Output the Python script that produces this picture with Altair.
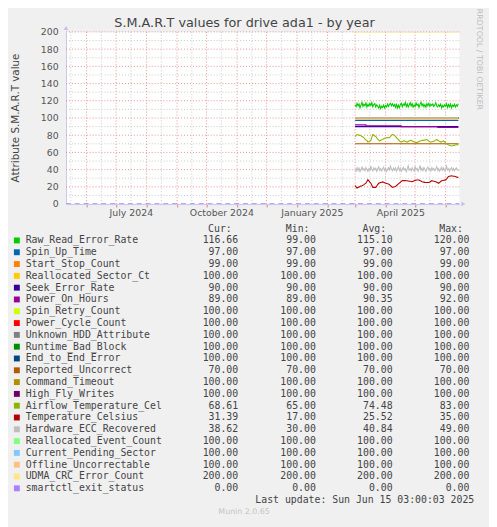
import altair as alt
import pandas as pd

# ---------------- data ----------------
start_date = "2025-03-01"
n_days = 106

series_names = [
    "Raw_Read_Error_Rate", "Spin_Up_Time", "Start_Stop_Count", "Reallocated_Sector_Ct",
    "Seek_Error_Rate", "Power_On_Hours", "Spin_Retry_Count", "Power_Cycle_Count",
    "Unknown_HDD_Attribute", "Runtime_Bad_Block", "End_to_End_Error", "Reported_Uncorrect",
    "Command_Timeout", "High_Fly_Writes", "Airflow_Temperature_Cel", "Temperature_Celsius",
    "Hardware_ECC_Recovered", "Reallocated_Event_Count", "Current_Pending_Sector",
    "Offline_Uncorrectable", "UDMA_CRC_Error_Count", "smartctl_exit_status",
]
series_colors = [
    "#00CC00", "#0066B3", "#FF8000", "#FFCC00", "#330099", "#990099", "#CCFF00", "#FF0000",
    "#808080", "#008F00", "#00487D", "#B35A00", "#B38F00", "#6B006B", "#8FB300", "#B30000",
    "#BEBEBE", "#80FF80", "#80C9FF", "#FFC080", "#FFE680", "#AA80FF",
]
cur_vals = [116.66, 97, 99, 100, 90, 89, 100, 100, 100, 100, 100, 70, 100, 100, 68.61, 31.39, 38.62, 100, 100, 100, 200, 0]
min_vals = [99, 97, 99, 100, 90, 89, 100, 100, 100, 100, 100, 70, 100, 100, 65, 17, 30, 100, 100, 100, 200, 0]
avg_vals = [115.10, 97, 99, 100, 90, 90.35, 100, 100, 100, 100, 100, 70, 100, 100, 74.48, 25.52, 40.84, 100, 100, 100, 200, 0]
max_vals = [120, 97, 99, 100, 90, 92, 100, 100, 100, 100, 100, 70, 100, 100, 83, 35, 49, 100, 100, 100, 200, 0]

const_levels = {
    "Spin_Up_Time": 97, "Start_Stop_Count": 99, "Reallocated_Sector_Ct": 100,
    "Seek_Error_Rate": 90, "Spin_Retry_Count": 100, "Power_Cycle_Count": 100,
    "Unknown_HDD_Attribute": 100, "Runtime_Bad_Block": 100, "End_to_End_Error": 100,
    "Reported_Uncorrect": 70, "Command_Timeout": 100, "High_Fly_Writes": 100,
    "Reallocated_Event_Count": 100, "Current_Pending_Sector": 100,
    "Offline_Uncorrectable": 100, "UDMA_CRC_Error_Count": 200,
}

raw_read = [
    115.5, 113.2, 117.0, 114.1, 116.3, 111.8, 115.0, 118.2, 113.5, 116.0,
    114.2, 117.5, 112.6, 115.8, 113.9, 116.9, 114.4, 118.0, 113.0, 115.6,
    116.8, 112.9, 115.3, 113.6, 111.5, 114.8, 110.9, 113.7, 112.2, 115.0,
    111.6, 114.3, 112.8, 116.1, 113.4, 115.9, 117.2, 114.0, 116.5, 113.8,
    115.7, 112.4, 116.6, 110.8, 114.9, 112.0, 115.4, 117.1, 113.1, 116.2,
    114.6, 118.1, 113.3, 116.4, 112.7, 115.2, 117.8, 113.9, 116.7, 112.5,
    115.1, 113.2, 117.4, 114.5, 116.0, 112.3, 115.8, 118.3, 114.1, 116.3,
    113.0, 115.6, 112.6, 116.8, 114.2, 117.0, 113.5, 115.9, 114.7, 116.4,
    113.3, 115.0, 117.6, 114.0, 112.9, 115.5, 113.4, 116.1, 111.9, 114.6,
    112.8, 115.3, 113.6, 116.5, 112.4, 115.7, 113.1, 116.2, 111.7, 114.9,
    113.5, 116.0, 112.7, 115.4, 113.8, 116.66,
]
airflow = [
    78.5, 79.5, 80.8, 80.5, 80.0, 79.8, 79.2, 78.6, 78.0, 77.0,
    75.5, 74.5, 74.0, 72.0, 72.5, 73.2, 74.0, 77.5, 80.8, 80.2,
    79.0, 78.5, 77.0, 75.5, 74.3, 73.5, 74.0, 74.6, 75.0, 75.8,
    76.4, 76.8, 77.0, 77.2, 77.0, 77.0, 78.5, 80.0, 80.8, 80.5,
    79.8, 78.6, 77.3, 76.0, 74.8, 73.6, 72.5, 72.0, 72.6, 73.2,
    73.5, 73.0, 72.4, 72.0, 72.6, 73.2, 73.8, 74.0, 73.3, 72.6,
    72.0, 71.8, 71.6, 71.6, 72.2, 72.8, 73.3, 73.5, 73.8, 74.0,
    74.0, 74.4, 74.8, 75.0, 74.0, 73.0, 72.4, 72.0, 72.3, 72.7,
    73.0, 73.6, 74.3, 75.0, 74.2, 73.4, 72.6, 72.0, 72.5, 73.0,
    73.5, 72.3, 71.0, 70.2, 69.4, 68.6, 68.2, 67.8, 67.5, 67.7,
    68.0, 68.3, 68.6, 68.9, 69.2, 68.6,
]
temperature = [
    21.3, 20.0, 18.7, 19.3, 19.9, 20.5, 21.0, 21.4, 21.9, 22.6,
    23.4, 24.2, 26.2, 28.2, 26.9, 25.5, 24.2, 21.8, 19.4, 19.4,
    19.4, 19.4, 21.0, 22.6, 24.2, 24.6, 25.0, 25.4, 25.7, 25.2,
    24.7, 24.2, 23.9, 23.6, 23.4, 22.4, 21.4, 20.4, 19.4, 19.8,
    20.1, 20.5, 21.5, 22.4, 23.4, 24.4, 25.3, 26.3, 27.2, 27.2,
    27.2, 27.2, 27.1, 27.0, 26.8, 26.6, 26.4, 26.2, 26.0, 26.5,
    27.0, 27.5, 28.0, 28.0, 28.0, 28.0, 27.3, 26.7, 26.0, 25.7,
    25.5, 25.2, 25.0, 25.0, 25.0, 25.0, 25.7, 26.5, 27.2, 26.9,
    26.6, 26.3, 26.0, 25.4, 24.8, 24.2, 25.2, 26.2, 27.2, 27.4,
    27.6, 27.8, 28.0, 29.3, 30.7, 32.0, 32.3, 32.6, 32.8, 32.6,
    32.4, 32.2, 32.0, 31.5, 31.0, 31.39,
]
ecc = [
    40.5, 38.2, 42.1, 39.0, 41.8, 37.6, 40.2, 43.0, 39.5, 41.2,
    38.8, 42.5, 40.0, 37.9, 41.0, 39.3, 44.2, 40.1, 38.5, 42.0,
    39.8, 41.5, 38.0, 40.7, 43.5, 39.2, 41.0, 38.4, 40.8, 42.8,
    39.0, 41.3, 37.8, 40.5, 42.2, 39.6, 44.0, 40.3, 38.6, 41.7,
    39.4, 42.0, 38.2, 40.9, 43.2, 39.1, 41.6, 38.0, 40.4, 42.6,
    39.7, 41.2, 37.5, 40.8, 44.5, 39.5, 41.0, 38.7, 42.3, 40.0,
    38.3, 43.8, 39.9, 41.4, 38.1, 40.6, 45.0, 39.2, 41.8, 38.9,
    42.4, 40.1, 37.8, 41.3, 43.0, 39.6, 40.9, 38.4, 42.1, 39.7,
    41.5, 38.6, 40.3, 43.6, 39.0, 41.1, 38.3, 40.7, 42.7, 39.4,
    41.9, 38.8, 40.2, 44.1, 39.5, 41.2, 38.0, 40.6, 42.3, 39.1,
    41.4, 38.7, 40.8, 42.0, 39.6, 38.62,
]
power_on_days = [0, 11, 47, 84, 105]
power_on_vals = [92, 91, 90, 89, 89]
smartctl_dates = ["2024-05-11", "2025-06-15"]
smartctl_vals = [0, 0]

month_starts = ["2024-06-01", "2024-07-01", "2024-08-01", "2024-09-01", "2024-10-01",
                "2024-11-01", "2024-12-01", "2025-01-01", "2025-02-01", "2025-03-01",
                "2025-04-01", "2025-05-01", "2025-06-01"]
mid_months = ["2024-05-16", "2024-06-16", "2024-07-16", "2024-08-16", "2024-09-16",
              "2024-10-16", "2024-11-16", "2024-12-16", "2025-01-16", "2025-02-16",
              "2025-03-16", "2025-04-16", "2025-05-16"]
major_y = [20, 40, 60, 80, 100, 120, 140, 160, 180, 200]
minor_y = [10, 30, 50, 70, 90, 110, 130, 150, 170, 190]
y_tick_values = [0, 20, 40, 60, 80, 100, 120, 140, 160, 180, 200]

title_text = "S.M.A.R.T values for drive ada1 - by year"
ylabel_text = "Attribute S.M.A.R.T value"
side_text = "RRDTOOL / TOBI OETIKER"
footer_text = "Munin 2.0.65"
update_text = "Last update: Sun Jun 15 03:00:03 2025"

# ---------------- chart ----------------
W, H = 400, 175
dates = pd.date_range(start_date, periods=n_days, freq="D").strftime("%Y-%m-%d").tolist()

xscale = alt.Scale(domain=[alt.DateTime(year=2024, month=5, date=11, hours=3),
                           alt.DateTime(year=2025, month=6, date=15, hours=3)])
yscale = alt.Scale(domain=[0, 200], nice=False, zero=False)

xaxis = alt.Axis(
    values=[alt.DateTime(year=int(d[:4]), month=int(d[5:7]), date=1) for d in month_starts],
    labelExpr="indexof([0,3,6,9], month(datum.value)) >= 0 ? timeFormat(datum.value, '%B %Y') : ''",
    labelOffset=15, tickSize=3, tickColor="#E08080", domainColor="#C8C8F0",
    grid=False, labelFont="DejaVu Sans", labelFontSize=9.5, labelColor="#555555",
    labelPadding=1, title=None, labelOverlap=False, labelFlush=False, labelBound=False,
)
yaxis = alt.Axis(
    values=y_tick_values, ticks=False, labelPadding=8, domainColor="#C8C8F0", grid=False,
    labelFont="DejaVu Sans", labelFontSize=9.5, labelColor="#555555", title=None,
)
X = alt.X("date:T", scale=xscale, axis=xaxis, title=None)
Y = alt.Y("value:Q", scale=yscale, axis=yaxis, title=None)

layers = []
# grid
layers.append(alt.Chart(pd.DataFrame({"date": mid_months})).mark_rule(
    color="#C8C8C8", strokeDash=[1, 2], strokeWidth=1).encode(x=X, y=alt.value(0), y2=alt.value(H)))
layers.append(alt.Chart(pd.DataFrame({"value": minor_y})).mark_rule(
    color="#C8C8C8", strokeDash=[1, 2], strokeWidth=1).encode(y=Y, x=alt.value(0), x2=alt.value(W)))
layers.append(alt.Chart(pd.DataFrame({"date": month_starts})).mark_rule(
    color="#EA9090", strokeDash=[1, 2], strokeWidth=1).encode(x=X, y=alt.value(0), y2=alt.value(H)))
layers.append(alt.Chart(pd.DataFrame({"value": major_y})).mark_rule(
    color="#EA9090", strokeDash=[1, 2], strokeWidth=1).encode(y=Y, x=alt.value(0), x2=alt.value(W)))

noisy = {
    "Raw_Read_Error_Rate": raw_read,
    "Airflow_Temperature_Cel": airflow,
    "Temperature_Celsius": temperature,
    "Hardware_ECC_Recovered": ecc,
}
for name, color in zip(series_names, series_colors):
    interp = "linear"
    if name in noisy:
        df = pd.DataFrame({"date": dates, "value": noisy[name]})
    elif name == "Power_On_Hours":
        df = pd.DataFrame({"date": [dates[i] for i in power_on_days], "value": power_on_vals})
        interp = "step-after"
    elif name == "smartctl_exit_status":
        df = pd.DataFrame({"date": smartctl_dates, "value": smartctl_vals})
    else:
        df = pd.DataFrame({"date": [dates[0], dates[-1]], "value": [const_levels[name]] * 2})
    mark_kwargs = dict(color=color, strokeWidth=1.1, clip=True, interpolate=interp)
    if name == "smartctl_exit_status":
        mark_kwargs.update(strokeDash=[5, 4], strokeWidth=1.5)
    layers.append(alt.Chart(df).mark_line(**mark_kwargs).encode(x=X, y=Y))

one = pd.DataFrame({"k": [0]})
# axis arrows
layers.append(alt.Chart(one).mark_point(shape="triangle-up", filled=True, size=22,
              color="#C0C0F0", opacity=1).encode(x=alt.value(0), y=alt.value(-4)))
layers.append(alt.Chart(one).mark_point(shape="triangle-right", filled=True, size=22,
              color="#C0C0F0", opacity=1).encode(x=alt.value(W + 4), y=alt.value(H)))

# texts
def label(text, x, y, size, color="#444444", align="center", angle=0, font="DejaVu Sans"):
    kw = dict(text=text, fontSize=size, color=color, align=align, baseline="middle", font=font)
    if angle:
        kw["angle"] = angle
    return alt.Chart(one).mark_text(**kw).encode(x=alt.value(x), y=alt.value(y))

layers.append(label(title_text, 181.5, -9, 13))
layers.append(label(ylabel_text, -51, 87.5, 10.5, angle=270))
layers.append(label(side_text, 420, 28, 8, color="#BDBDBD", angle=90))
layers.append(label(footer_text, 181, 488, 8, color="#C4C4C4"))
layers.append(label(update_text, 415, 475.5, 10, color="#444444", align="right",
                    font="DejaVu Sans Mono"))

# legend table
MONO = "DejaVu Sans Mono"
col_right = {"cur": 175, "min": 254, "avg": 332, "max": 410}
headers = {"cur": "Cur:", "min": "Min:", "avg": "Avg:", "max": "Max:"}
for key, xr in col_right.items():
    layers.append(label(headers[key], xr - 6.5, 200, 10, align="right", font=MONO))

leg = pd.DataFrame({
    "row": list(range(len(series_names))),
    "name": series_names, "color": series_colors,
    "cur": cur_vals, "min": min_vals, "avg": avg_vals, "max": max_vals,
})
legbase = alt.Chart(leg).transform_calculate(py="212 + 12 * datum.row")
PY = alt.Y("py:Q", scale=None, axis=None)
layers.append(legbase.mark_square(size=36, filled=True, opacity=1).encode(
    x=alt.value(-50), y=PY, color=alt.Color("color:N", scale=None, legend=None)))
layers.append(legbase.mark_text(align="left", baseline="middle", font=MONO, fontSize=10,
                                color="#444444").encode(x=alt.value(-41), y=PY, text="name:N"))
for key, xr in col_right.items():
    layers.append(legbase.mark_text(align="right", baseline="middle", font=MONO, fontSize=10,
                                    color="#444444").encode(
        x=alt.value(xr), y=PY, text=alt.Text(f"{key}:Q", format=".2f")))

chart = alt.layer(*layers).properties(
    width=W, height=H,
    autosize=alt.AutoSizeParams(type="none"),
    padding={"left": 59, "top": 20, "right": 30, "bottom": 324},
    background="#F0F0F0",
).configure_view(fill="white", stroke=None)

chart.save("out.html", embed_options={"renderer": "svg", "actions": False})
